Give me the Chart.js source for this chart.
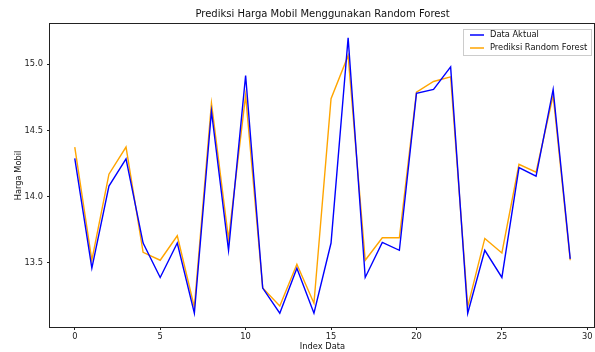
<!DOCTYPE html>
<html>
<head>
<meta charset="utf-8">
<script src="https://cdn.jsdelivr.net/npm/chart.js@4.4.1/dist/chart.umd.min.js"></script>
<style>
  html, body { margin: 0; padding: 0; background: #fff; }
  #wrap { width: 595px; height: 352px; }
</style>
</head>
<body>
<div id="wrap"><canvas id="price-chart" width="595" height="352"></canvas></div>
<script>
var indexData = [];
for (var i = 0; i < 30; i++) indexData.push(i);

var dataAktual = [
  14.29, 13.46, 14.08, 14.285, 13.65, 13.39, 13.65, 13.12, 14.645, 13.595,
  14.915, 13.31, 13.12, 13.46, 13.12, 13.65, 15.20, 13.39, 13.655, 13.595,
  14.78, 14.81, 14.98, 13.12, 13.595, 13.39, 14.22, 14.155, 14.81, 13.53
];
var prediksiRF = [
  14.375, 13.52, 14.17, 14.375, 13.58, 13.52, 13.705, 13.165, 14.705, 13.68,
  14.765, 13.31, 13.175, 13.49, 13.195, 14.74, 15.065, 13.52, 13.69, 13.69,
  14.79, 14.87, 14.905, 13.17, 13.685, 13.575, 14.245, 14.185, 14.765, 13.52
];
var xTicks = [0, 5, 10, 15, 20, 25, 30];
var yTicks = [13.5, 14.0, 14.5, 15.0];

var font = "'DejaVu Sans', sans-serif";

function toPoints(arr) {
  return arr.map(function (v, i) { return { x: indexData[i], y: v }; });
}

// title over the plot, box around the axes, legend inside top-right
var extras = {
  id: "extras",
  afterDraw: function (chart) {
    var ctx = chart.ctx;
    var a = chart.chartArea;
    ctx.save();
    ctx.strokeStyle = "#222";
    ctx.lineWidth = 1;
    ctx.strokeRect(Math.round(a.left) - 0.5, Math.round(a.top) - 0.5,
      Math.round(a.right - a.left), Math.round(a.bottom - a.top) + 1);

    ctx.fillStyle = "#111";
    ctx.font = "10px " + font;
    ctx.textAlign = "center";
    ctx.textBaseline = "middle";
    ctx.fillText("Prediksi Harga Mobil Menggunakan Random Forest", (a.left + a.right) / 2, 14);

    var bx = 463.5, by = 29.5, bw = 128, bh = 26;
    ctx.fillStyle = "rgba(255,255,255,0.8)";
    ctx.strokeStyle = "#ccc";
    ctx.fillRect(bx, by, bw, bh);
    ctx.strokeRect(bx, by, bw, bh);
    ctx.font = "8.3px " + font;
    ctx.textAlign = "left";
    chart.data.datasets.forEach(function (ds, k) {
      var y = 35 + k * 13;
      ctx.strokeStyle = ds.borderColor;
      ctx.lineWidth = 1.5;
      ctx.beginPath();
      ctx.moveTo(470, y);
      ctx.lineTo(484, y);
      ctx.stroke();
      ctx.fillStyle = "#111";
      ctx.fillText(ds.label, 490, y);
    });
    ctx.restore();
  }
};

const config = {
  type: "line",
  data: {
    datasets: [
      {
        label: "Data Aktual",
        data: toPoints(dataAktual),
        borderColor: "#0000ff",
        borderWidth: 1.4,
        pointRadius: 0,
        tension: 0,
        fill: false,
      },
      {
        label: "Prediksi Random Forest",
        data: toPoints(prediksiRF),
        borderColor: "#ffa500",
        borderWidth: 1.4,
        pointRadius: 0,
        tension: 0,
        fill: false,
      },
    ],
  },
  options: {
    responsive: false,
    animation: false,
    layout: { padding: { top: 24, right: 0, left: 0, bottom: 0 } },
    plugins: {
      legend: { display: false },
      title: { display: false },
      tooltip: { enabled: false },
    },
    scales: {
      x: {
        type: "linear",
        min: -1.45,
        max: 30.45,
        afterBuildTicks: function (s) { s.ticks = xTicks.map(function (v) { return { value: v }; }); },
        afterFit: function (s) { s.height = 25; },
        grid: { drawOnChartArea: false, tickLength: 3, color: "#222" },
        border: { display: false },
        ticks: { color: "#222", padding: 2, font: { family: font, size: 8.3 }, maxRotation: 0 },
        title: { display: true, text: "Index Data", color: "#111", padding: { top: 0, bottom: 0 }, font: { family: font, size: 8.3 } },
      },
      y: {
        type: "linear",
        min: 13.016,
        max: 15.304,
        afterBuildTicks: function (s) { s.ticks = yTicks.map(function (v) { return { value: v }; }); },
        afterFit: function (s) { s.width = 50; },
        grid: { drawOnChartArea: false, tickLength: 3, color: "#222" },
        border: { display: false },
        ticks: {
          color: "#222", padding: 4, font: { family: font, size: 8.3 },
          callback: function (v) { return v.toFixed(1); },
        },
        title: { display: true, text: "Harga Mobil", color: "#111", padding: { top: 14, bottom: 0 }, font: { family: font, size: 8.3 } },
      },
    },
  },
  plugins: [extras],
};

var myChart = new Chart(document.getElementById("price-chart"), config);
</script>
</body>
</html>
